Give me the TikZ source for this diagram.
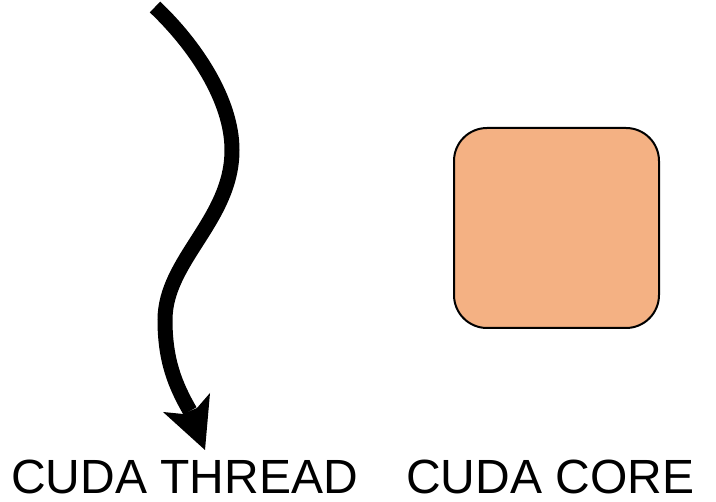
\documentclass[tikz,border=0pt]{standalone}
\usepackage{fontspec}
\setmainfont{Liberation Sans}
\definecolor{corefill}{HTML}{F4B183}
\begin{document}
\begin{tikzpicture}[x=1pt,y=-1pt,
  label/.style={inner sep=0pt,anchor=base west,font=\fontsize{48}{56}\selectfont},
  corebox/.style={draw=black,line width=2pt,fill=corefill,rounded corners=33pt},
  threadline/.style={line width=15pt,line cap=butt}]
\useasboundingbox (0,0) rectangle (716,502);
% thread arrow
\coordinate (s) at (155,7);
\coordinate (m1) at (232,150);
\coordinate (m2) at (165,320);
\coordinate (e) at (190,411);
\draw[threadline] (s) .. controls (195,45) and (232,100) .. (m1)
  .. controls (232,220) and (165,260) .. (m2)
  .. controls (165,360) and (175,385) .. (e);
\fill (205,450) -- (163,412) -- (183,414) -- (197,408) -- (210,393) -- cycle;
% core
\draw[corebox] (454,128) rectangle (659,328);
\node[label] (threadlabel) at (11,494) {CUDA THREAD};
\node[label] (corelabel) at (406,494) {CUDA CORE};
\end{tikzpicture}
\end{document}
